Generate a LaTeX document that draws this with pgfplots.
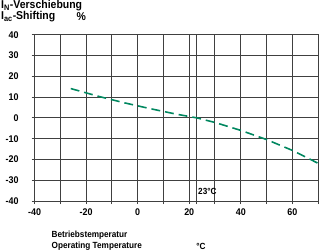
\documentclass[border=0pt]{standalone}
\usepackage{fontspec}
\setmainfont{Liberation Sans}[FakeStretch=0.92]
\usepackage{pgfplots}
\pgfplotsset{compat=1.18}
\definecolor{curvegreen}{RGB}{0,135,95}
\begin{document}
\fontsize{9}{10}\selectfont\bfseries
\begin{tikzpicture}
\begin{axis}[
  at={(0,0)}, anchor=south west,
  scale only axis, width=286pt, height=168pt,
  xmin=-40, xmax=70, ymin=-40, ymax=40,
  xtick={-40,-30,...,70},
  xticklabels={-40,,-20,,0,,20,,40,,60,},
  ytick={-40,-30,...,40},
  extra x ticks={23}, extra x tick labels={},
  xmajorgrids=true, ymajorgrids=true,
  extra x tick style={xmajorgrids=true},
  major grid style={black!75, line width=1pt},
  axis line style={black!75, line width=1pt},
  tick align=outside, major tick style={black!75, line width=1pt},
  major tick length=3pt,
  xtick pos=bottom, ytick pos=left,
  /pgf/number format/assume math mode=true,
  tick label style={font=\fontsize{9.8}{11}\selectfont\bfseries},
  every y tick label/.append style={xshift=-10pt},
  every x tick label/.append style={yshift=-1pt},
  clip=false,
]
\addplot[curvegreen, line width=1.6pt, dash pattern=on 9pt off 5pt] coordinates {
(-26,14.1) (-15,10.3) (-5,7.2) (5,4.4) (15,1.8) (23,0) (30,-2.2) (40,-6.0) (50,-10.4) (60,-15.6) (70,-21.8)
};
\node[anchor=west, inner sep=0pt] at (axis cs:23.4,-35.2) {23°C};
\end{axis}
\node[anchor=west, inner sep=0pt, font=\fontsize{11.5}{12}\selectfont\bfseries] at (-34pt,197pt) {I\textsubscript{N}-Verschiebung};
\node[anchor=west, inner sep=0pt, font=\fontsize{11.5}{12}\selectfont\bfseries] at (-34pt,186pt) {I\textsubscript{ac}-Shifting};
\node[inner sep=0pt, font=\fontsize{11.5}{12}\selectfont\bfseries] at (47pt,186pt) {\%};
\node[anchor=west, inner sep=0pt] at (17pt,-34pt) {Betriebstemperatur};
\node[anchor=west, inner sep=0pt] at (17pt,-45.5pt) {Operating Temperature};
\node[anchor=west, inner sep=0pt] at (163pt,-45.5pt) {°C};
\path[use as bounding box] (-35pt,-51pt) rectangle (286pt,203pt);
\end{tikzpicture}
\end{document}
